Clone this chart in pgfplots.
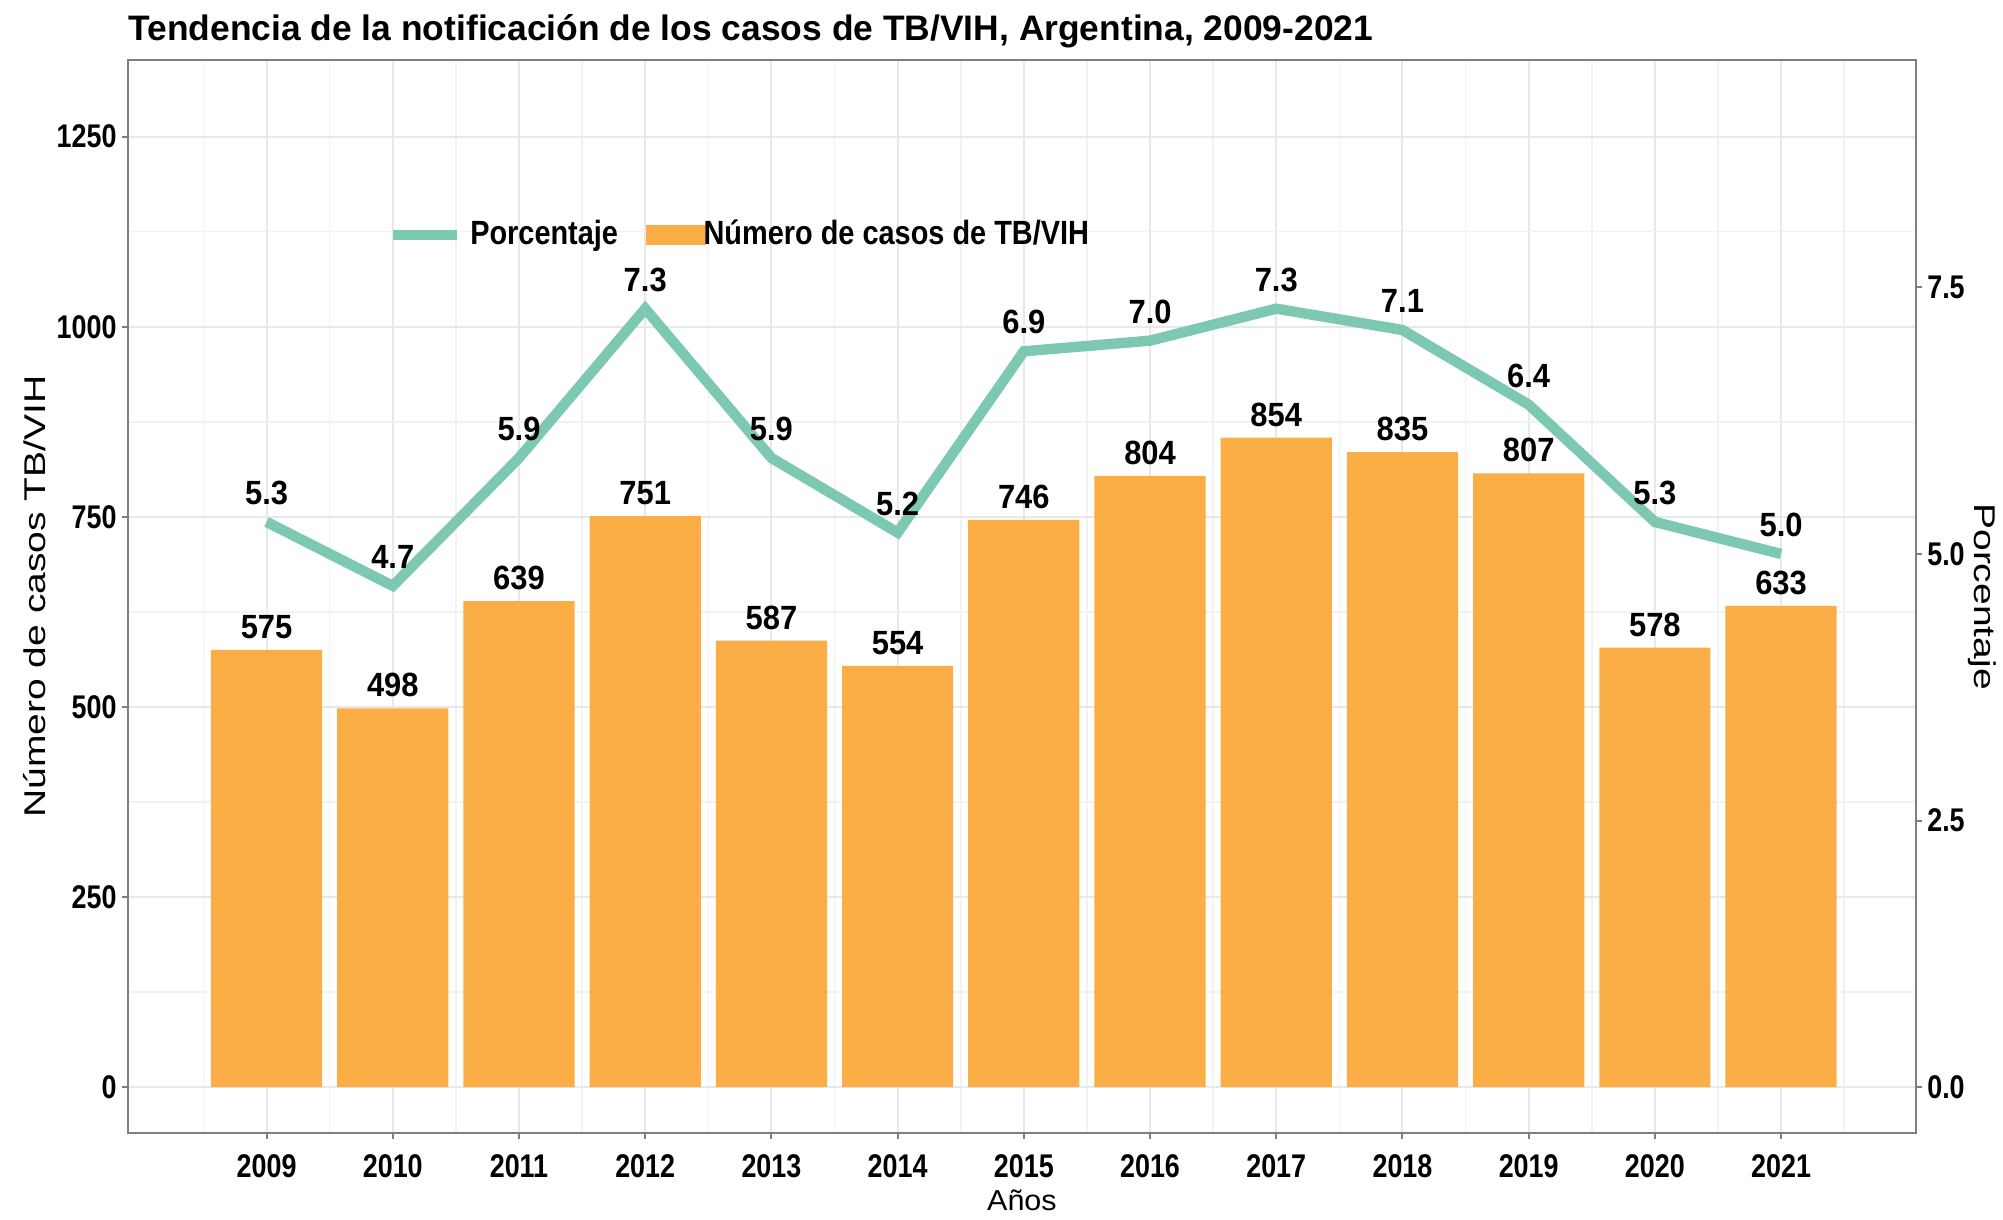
\documentclass[border=0pt]{standalone}
\usepackage{pgfplots}
\pgfplotsset{compat=1.18}
\usepackage{fontspec}
\setmainfont{Liberation Sans}
\newfontfamily\tickfam{Liberation Sans}[FakeStretch=0.82]
\newfontfamily\lblfam{Liberation Sans}[FakeStretch=0.92]
\newfontfamily\legfam{Liberation Sans}[FakeStretch=0.86]
\newfontfamily\vertfam{Liberation Sans}[FakeStretch=1.3]
\newfontfamily\xlabfam{Liberation Sans}[FakeStretch=1.06]
\definecolor{barc}{HTML}{FBAE45}
\definecolor{linec}{HTML}{7CC8B3}
\definecolor{framec}{HTML}{7F7F7F}
\newcommand{\tickfont}{\tickfam\bfseries\fontsize{8.2}{9}\selectfont}
\newcommand{\lblfont}{\lblfam\bfseries\fontsize{8.4}{9}\selectfont}
\newcommand{\legfont}{\legfam\bfseries\fontsize{8.4}{9}\selectfont}
\begin{document}
\begin{tikzpicture}
\useasboundingbox (-31.94pt,-21.72pt) rectangle (468.82pt,283.27pt);
\begin{axis}[
  scale only axis, width=447.1pt, height=268.26pt,
  xmin=2007.9, xmax=2022.07, ymin=-60.5, ymax=1350.8,
  xtick={2009,2010,2011,2012,2013,2014,2015,2016,2017,2018,2019,2020,2021},
  xticklabels={2009,2010,2011,2012,2013,2014,2015,2016,2017,2018,2019,2020,2021},
  ytick={0,250,500,750,1000,1250},
  yticklabels={0,250,500,750,1000,1250},
  minor xtick={2008.5,2009.5,2010.5,2011.5,2012.5,2013.5,2014.5,2015.5,2016.5,2017.5,2018.5,2019.5,2020.5,2021.5},
  minor ytick={125,375,625,875,1125},
  ytick pos=left, xtick pos=lower,
  grid=both,
  major grid style={black!9, line width=0.5pt},
  minor grid style={black!5, line width=0.4pt},
  tick align=outside, major tick length=1.5pt, minor tick length=0pt,
  axis line style={framec, line width=0.6pt},
  tick style={framec, line width=0.5pt},
  xticklabel style={font=\tickfont, inner sep=0pt, yshift=-3.6pt},
  yticklabel style={font=\tickfont, inner sep=0pt, xshift=-1.1pt},
  ybar, bar width=27.8pt,
  nodes near coords,
  nodes near coords style={font=\lblfont, inner sep=0pt, yshift=2.6pt},
  point meta=explicit symbolic,
]
\addplot[fill=barc, draw=none] coordinates {
  (2009,575) [575] (2010,498) [498] (2011,639) [639] (2012,751) [751]
  (2013,587) [587] (2014,554) [554] (2015,746) [746] (2016,804) [804]
  (2017,854) [854] (2018,835) [835] (2019,807) [807] (2020,578) [578]
  (2021,633) [633]
};
\end{axis}
\begin{axis}[
  scale only axis, width=447.1pt, height=268.26pt,
  xmin=2007.9, xmax=2022.07, ymin=-0.431, ymax=9.632,
  axis x line=none, axis y line*=right,
  ytick={0,2.5,5,7.5}, yticklabels={0.0,2.5,5.0,7.5},
  tick align=outside, major tick length=1.5pt,
  axis line style={framec, line width=0.6pt},
  tick style={framec, line width=0.5pt},
  yticklabel style={font=\tickfont, inner sep=0pt, xshift=1.1pt},
  nodes near coords,
  nodes near coords style={font=\lblfont, inner sep=0pt, anchor=south, yshift=3pt, black},
  point meta=explicit symbolic,
  legend style={at={(rel axis cs:0.145,0.837)}, anchor=west, draw=none, fill=none,
    font=\legfont, legend columns=2, inner sep=0pt,
    /tikz/every even column/.append style={column sep=5pt}},
  legend cell align=left,
]
\addplot[linec, line width=2.6pt, mark=none,
  legend image code/.code={\draw[linec, line width=2.6pt] (0pt,0pt) -- (16pt,0pt);}] coordinates {
  (2009,5.3) [5.3] (2010,4.7) [4.7] (2011,5.9) [5.9] (2012,7.3) [7.3]
  (2013,5.9) [5.9] (2014,5.2) [5.2] (2015,6.9) [6.9] (2016,7.0) [7.0]
  (2017,7.3) [7.3] (2018,7.1) [7.1] (2019,6.4) [6.4] (2020,5.3) [5.3]
  (2021,5.0) [5.0]
};
\addlegendentry{Porcentaje}
\addlegendimage{legend image code/.code={\path (0pt,0pt) -- (12pt,0pt);\fill[barc,overlay] (0pt,-2.4pt) rectangle (14.5pt,2.4pt);}}
\addlegendentry{Número de casos de TB/VIH}
\end{axis}
\node[anchor=base west, inner sep=0pt, font=\bfseries\fontsize{8.85}{10}\selectfont] at (0pt,273.06pt)
  {Tendencia de la notificación de los casos de TB/VIH, Argentina, 2009-2021};
\node[rotate=90, inner sep=0pt, font=\vertfam\fontsize{7.5}{9}\selectfont] at (-23.2pt,134.13pt) {Número de casos TB/VIH};
\node[rotate=-90, inner sep=0pt, font=\vertfam\fontsize{7.5}{9}\selectfont] at (463.6pt,134.13pt) {Porcentaje};
\node[inner sep=0pt, font=\xlabfam\fontsize{7.2}{9}\selectfont] at (223.55pt,-16.9pt) {Años};
\end{tikzpicture}
\end{document}
